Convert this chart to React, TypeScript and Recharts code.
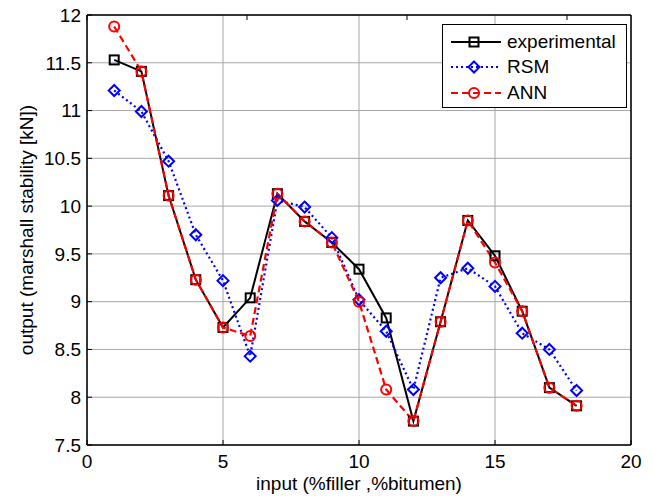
import { LineChart, Line, XAxis, YAxis, CartesianGrid } from "recharts";

// values
const inputs = [1, 2, 3, 4, 5, 6, 7, 8, 9, 10, 11, 12, 13, 14, 15, 16, 17, 18];
const experimental = [11.53, 11.41, 10.11, 9.23, 8.73, 9.04, 10.13, 9.84, 9.62, 9.34, 8.83, 7.75, 8.79, 9.85, 9.48, 8.9, 8.1, 7.91];
const rsm = [11.21, 10.99, 10.47, 9.7, 9.22, 8.43, 10.06, 9.99, 9.67, 9.02, 8.69, 8.08, 9.25, 9.35, 9.16, 8.67, 8.5, 8.07];
const ann = [11.88, 11.41, 10.11, 9.23, 8.73, 8.64, 10.13, 9.84, 9.62, 9.0, 8.08, 7.75, 8.79, 9.85, 9.41, 8.9, 8.1, 7.91];

const xTicks = [0, 5, 10, 15, 20];
const yTicks = [7.5, 8, 8.5, 9, 9.5, 10, 10.5, 11, 11.5, 12];

const legendItems = [
  { name: "experimental", color: "#000000", dash: undefined, marker: "square" },
  { name: "RSM", color: "#0000ff", dash: "2 3", marker: "diamond" },
  { name: "ANN", color: "#ff0000", dash: "7 4", marker: "circle" },
];

const data = inputs.map((x, i) => ({
  x,
  experimental: experimental[i],
  rsm: rsm[i],
  ann: ann[i],
}));

const FONT = "'Liberation Sans', Arial, sans-serif";
const FONT_SIZE = 19;

function Marker({ kind, cx, cy, color }: { kind: string; cx: number; cy: number; color: string }) {
  if (kind === "square") {
    return <rect x={cx - 4.5} y={cy - 4.5} width={9} height={9} fill="none" stroke={color} strokeWidth={2} />;
  }
  if (kind === "diamond") {
    const r = 5.5;
    return (
      <polygon
        points={`${cx},${cy - r} ${cx + r},${cy} ${cx},${cy + r} ${cx - r},${cy}`}
        fill="none"
        stroke={color}
        strokeWidth={2}
      />
    );
  }
  return <circle cx={cx} cy={cy} r={5} fill="none" stroke={color} strokeWidth={2} />;
}

function dotFor(kind: string, color: string) {
  return (props: any) => {
    const { cx, cy, index } = props;
    if (cx == null || cy == null) return <g key={`${kind}-${index}`} />;
    return (
      <g key={`${kind}-${index}`}>
        <Marker kind={kind} cx={cx} cy={cy} color={color} />
      </g>
    );
  };
}

// MATLAB-style boxed legend, laid over the chart (a recharts Legend would eat plot height)
function MatlabLegend() {
  return (
    <div
      style={{
        position: "absolute",
        left: 442,
        top: 24,
        border: "1.5px solid #000",
        background: "#fff",
        width: 185,
        height: 84,
        boxSizing: "border-box",
        paddingTop: 4,
        fontFamily: FONT,
        fontSize: FONT_SIZE,
      }}
    >
      {legendItems.map((it) => (
        <div key={it.name} style={{ display: "flex", alignItems: "center", height: 25.5 }}>
          <svg width={56} height={16} style={{ marginLeft: 8 }}>
            <line x1={0} y1={8} x2={50} y2={8} stroke={it.color} strokeWidth={2} strokeDasharray={it.dash} />
            <Marker kind={it.marker} cx={23} cy={8} color={it.color} />
          </svg>
          <span style={{ color: "#000" }}>{it.name}</span>
        </div>
      ))}
    </div>
  );
}

export default function App() {
  const tickStyle = { fill: "#000", fontSize: FONT_SIZE, fontFamily: FONT };
  const frame = { stroke: "#000", strokeWidth: 1.5 };
  return (
    <div style={{ position: "absolute", left: 0, top: 0, width: 654, height: 497, background: "#fff" }}>
      <LineChart
        width={654}
        height={497}
        data={data}
        margin={{ top: 14, right: 22, bottom: 0, left: 0 }}
      >
        <CartesianGrid stroke="#a6a6a6" strokeWidth={1} />
        <XAxis
          dataKey="x"
          type="number"
          domain={[0, 20]}
          ticks={xTicks}
          height={52}
          tickSize={-5}
          tickMargin={15}
          axisLine={frame}
          tickLine={{ stroke: "#000" }}
          tick={tickStyle}
          label={{
            value: "input (%filler ,%bitumen)",
            position: "insideBottom",
            offset: 7,
            style: { fill: "#000", fontSize: FONT_SIZE, fontFamily: FONT },
          }}
        />
        <XAxis
          xAxisId="top"
          orientation="top"
          type="number"
          domain={[0, 20]}
          ticks={xTicks}
          height={1}
          tickSize={-5}
          tickFormatter={() => ""}
          axisLine={frame}
          tickLine={{ stroke: "#000" }}
        />
        <YAxis
          type="number"
          domain={[7.5, 12]}
          ticks={yTicks}
          width={87}
          tickSize={-5}
          tickMargin={11}
          axisLine={frame}
          tickLine={{ stroke: "#000" }}
          tick={tickStyle}
          label={{
            value: "output (marshall stability [kN])",
            angle: -90,
            position: "insideLeft",
            offset: 26,
            style: { textAnchor: "middle", fill: "#000", fontSize: FONT_SIZE, fontFamily: FONT },
          }}
        />
        <YAxis
          yAxisId="right"
          orientation="right"
          type="number"
          domain={[7.5, 12]}
          ticks={yTicks}
          width={1}
          tickSize={-5}
          tickFormatter={() => ""}
          axisLine={frame}
          tickLine={{ stroke: "#000" }}
        />
        <Line
          dataKey="experimental"
          name="experimental"
          stroke="#000"
          strokeWidth={2}
          dot={dotFor("square", "#000")}
          isAnimationActive={false}
        />
        <Line
          dataKey="rsm"
          name="RSM"
          stroke="#0000ff"
          strokeWidth={2.2}
          strokeDasharray="2 3"
          dot={dotFor("diamond", "#0000ff")}
          isAnimationActive={false}
        />
        <Line
          dataKey="ann"
          name="ANN"
          stroke="#ff0000"
          strokeWidth={2.2}
          strokeDasharray="7 4"
          dot={dotFor("circle", "#ff0000")}
          isAnimationActive={false}
        />
      </LineChart>
      <MatlabLegend />
    </div>
  );
}
